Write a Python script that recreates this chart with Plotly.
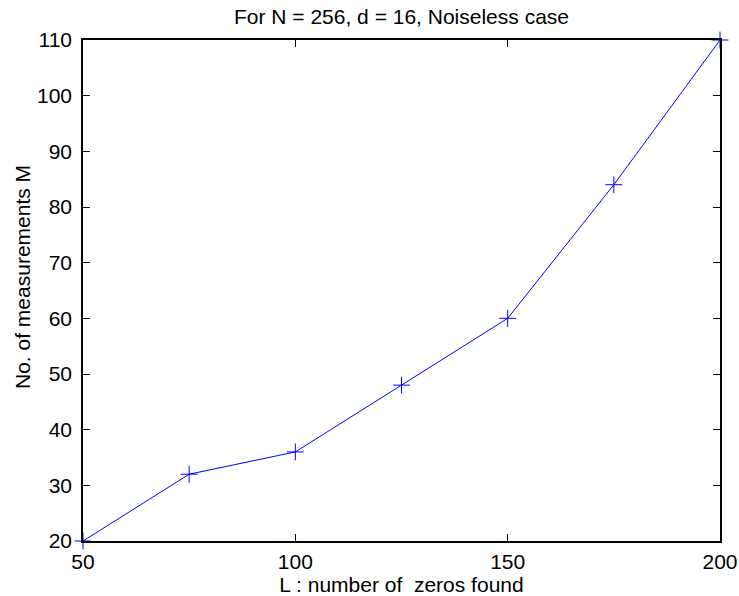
import plotly.graph_objects as go

L_values = [50, 75, 100, 125, 150, 175, 200]
M_values = [20, 32, 36, 48, 60, 84, 110]
x_ticks = [50, 100, 150, 200]
y_ticks = [20, 30, 40, 50, 60, 70, 80, 90, 100, 110]

font = "Liberation Sans, Arial, sans-serif"
fs = 21

fig = go.Figure()
fig.add_trace(go.Scatter(
    x=L_values, y=M_values, mode="lines+markers",
    line=dict(color="#0000ff", width=1),
    marker=dict(symbol="cross-thin", size=12, line=dict(color="#0000ff", width=1), color="#0000ff"),
    cliponaxis=False, showlegend=False,
))

axis_common = dict(
    showgrid=False, zeroline=False, showline=True, linecolor="black", linewidth=1.5,
    mirror="ticks", ticks="inside", ticklen=7, tickcolor="black", tickwidth=1,
    tickfont=dict(family=font, size=fs, color="black"), automargin=False,
)

plot_top, plot_bottom = 40, 541
ytitle_center = 277
ytitle_frac = (plot_bottom - ytitle_center) / (plot_bottom - plot_top)

fig.update_layout(
    width=739, height=596,
    margin=dict(l=83, r=19, t=plot_top, b=596 - plot_bottom),
    paper_bgcolor="white", plot_bgcolor="white",
    title=dict(text="For N = 256, d = 16, Noiseless case", x=0.5, xref="paper", xanchor="center",
               y=1 - 17 / 596, yanchor="middle",
               font=dict(family=font, size=fs, color="black")),
    xaxis=dict(range=[50, 200], tickvals=x_ticks, ticktext=[str(v) for v in x_ticks],
               ticklabelstandoff=1,
               title=dict(text="L : number of  zeros found", font=dict(family=font, size=fs, color="black"), standoff=0),
               **axis_common),
    yaxis=dict(range=[20, 110], tickvals=y_ticks, ticktext=[str(v) for v in y_ticks],
               ticklabelstandoff=5, **axis_common),
    annotations=[dict(text="No. of measurements M", xref="paper", yref="paper",
                      x=0, y=ytitle_frac, xanchor="center", yanchor="middle",
                      xshift=-61, textangle=-90, showarrow=False,
                      font=dict(family=font, size=fs, color="black"))],
)

fig.write_html("out.html")
